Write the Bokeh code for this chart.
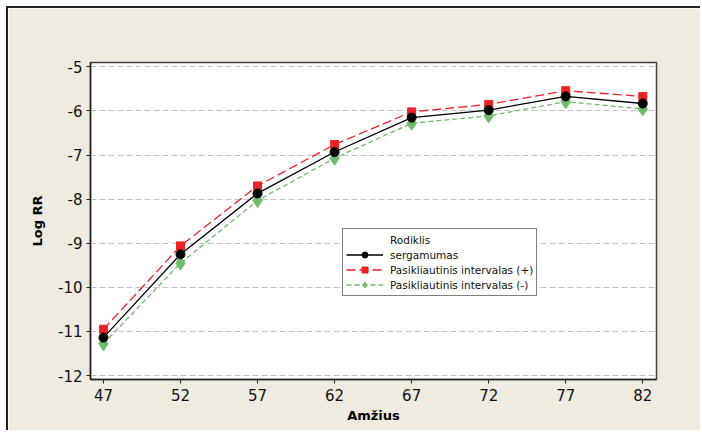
import numpy as np
from bokeh.plotting import figure
from bokeh.models import (ColumnDataSource, Legend, LegendItem, FixedTicker,
                          Range1d, PrintfTickFormatter)
from bokeh.embed import file_html
from bokeh.resources import INLINE

# ---- data ----
age = [47, 52, 57, 62, 67, 72, 77, 82]
sergamumas = [-11.14, -9.25, -7.87, -6.93, -6.15, -5.98, -5.67, -5.83]
ci_plus = [-10.95, -9.06, -7.70, -6.76, -6.02, -5.85, -5.54, -5.67]
ci_minus = [-11.28, -9.45, -8.03, -7.07, -6.28, -6.11, -5.79, -5.95]
x_ticks = [47, 52, 57, 62, 67, 72, 77, 82]
y_ticks = [-12, -11, -10, -9, -8, -7, -6, -5]

legend_title = "Rodiklis"
names = ["sergamumas", "Pasikliautinis intervalas (+)", "Pasikliautinis intervalas (-)"]

RED = "#ec2226"
GREEN = "#6cbd68"
BEIGE = "#efebe1"

src = ColumnDataSource(dict(x=age, s=sergamumas, p=ci_plus, m=ci_minus))

p = figure(width=694, height=424, output_backend="svg", toolbar_location=None,
           x_range=Range1d(46.16, 82.89), y_range=Range1d(-12.09, -4.9),
           min_border_left=82, min_border_top=54, min_border_right=46,
           min_border_bottom=53)
p.margin = (6, 0, 0, 6)
p.styles = {"border-top": "2px solid #222222", "border-left": "2px solid #222222"}

p.background_fill_color = "white"
p.border_fill_color = BEIGE
p.outline_line_color = "#444444"
p.outline_line_width = 1.5

# grid
p.xgrid.visible = False
p.ygrid.grid_line_color = "#c4c4c4"
p.ygrid.grid_line_dash = "6 3"
p.ygrid.grid_line_width = 1

# axes
for ax in (p.xaxis[0], p.yaxis[0]):
    ax.axis_line_color = "#222222"
    ax.axis_line_width = 1.5
    ax.major_tick_line_color = "#222222"
    ax.major_tick_out = 4
    ax.major_tick_in = 0
    ax.minor_tick_line_color = None
    ax.major_label_text_font = "DejaVu Sans"
    ax.major_label_text_font_size = "15px"
    ax.major_label_text_color = "#111111"
    ax.axis_label_text_font = "DejaVu Sans"
    ax.axis_label_text_font_style = "bold"
    ax.axis_label_text_font_size = "13px"
    ax.axis_label_text_color = "#000000"

p.xaxis.ticker = FixedTicker(ticks=x_ticks)
p.yaxis.ticker = FixedTicker(ticks=y_ticks)
p.xaxis.formatter = PrintfTickFormatter(format="%d")
p.yaxis.formatter = PrintfTickFormatter(format="%d")
p.xaxis.axis_label = "Amžius"
p.yaxis.axis_label = "Log RR"
p.xaxis.major_label_standoff = 5
p.yaxis.major_label_standoff = 4
p.xaxis.axis_label_standoff = 4
p.yaxis.axis_label_standoff = 10

# series
l_plus = p.line("x", "p", source=src, line_color=RED, line_width=1.3, line_dash="9 4")
m_plus = p.scatter("x", "p", source=src, marker="square", size=8, fill_color=RED, line_color=RED)
l_minus = p.line("x", "m", source=src, line_color=GREEN, line_width=1.3, line_dash="5 3")
m_minus = p.scatter("x", "m", source=src, marker="diamond", size=14, fill_color=GREEN, line_color=GREEN)
l_s = p.line("x", "s", source=src, line_color="black", line_width=1.3)
m_s = p.scatter("x", "s", source=src, marker="circle", size=9, fill_color="black", line_color="black")

dummy = p.line(x=[np.nan], y=[np.nan], line_alpha=0)

legend = Legend(items=[
    LegendItem(label=legend_title, renderers=[dummy]),
    LegendItem(label=names[0], renderers=[l_s, m_s]),
    LegendItem(label=names[1], renderers=[l_plus, m_plus]),
    LegendItem(label=names[2], renderers=[l_minus, m_minus]),
], location=(252, 83))
legend.border_line_color = "black"
legend.border_line_width = 1
legend.background_fill_color = "white"
legend.background_fill_alpha = 1
legend.label_text_font = "DejaVu Sans"
legend.label_text_font_size = "10.5px"
legend.label_text_color = "#111111"
legend.padding = 3
legend.spacing = 0
legend.margin = 0
legend.label_height = 15
legend.glyph_height = 15
legend.glyph_width = 37
legend.label_standoff = 7
p.add_layout(legend, "center")

open("out.html", "w").write(file_html(p, INLINE))
